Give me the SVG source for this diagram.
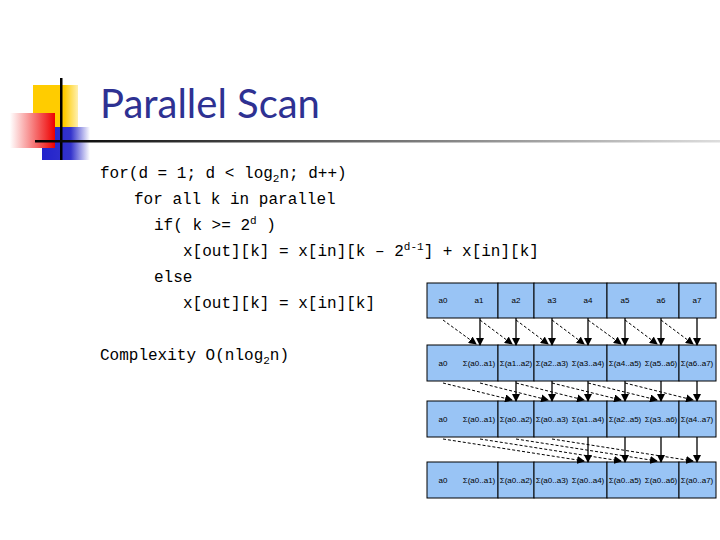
<svg xmlns="http://www.w3.org/2000/svg" width="720" height="540" viewBox="0 0 720 540">
<defs>
<linearGradient id="hl" x1="0" x2="1"><stop offset="0" stop-color="#000"/><stop offset="1" stop-color="#ddd"/></linearGradient>
<linearGradient id="rd" x1="0" x2="1"><stop offset="0" stop-color="#fff"/><stop offset="1" stop-color="#e00"/></linearGradient>
<linearGradient id="bl" x1="0" x2="1"><stop offset="0" stop-color="#2222cc"/><stop offset="0.6" stop-color="#3333cc"/><stop offset="1" stop-color="#fff"/></linearGradient>
<linearGradient id="yl" x1="0" x2="1"><stop offset="0" stop-color="#fc0"/><stop offset="0.7" stop-color="#fc0"/><stop offset="1" stop-color="#fff0b0"/></linearGradient>
<marker id="ah" markerWidth="8" markerHeight="8" refX="7" refY="4" orient="auto" markerUnits="userSpaceOnUse"><path d="M0,0 L8,4 L0,8 Z" fill="#000"/></marker>
<style>
.code{font-family:"Liberation Mono",monospace;font-size:16px;fill:#000}
.cell{fill:#99c4f5;stroke:#000;stroke-width:1}
.t{font-family:"Liberation Sans",sans-serif;font-size:8px;fill:#000;text-anchor:middle}
.s{stroke:#000;stroke-width:1.3;fill:none;marker-end:url(#ah)}
.d{stroke:#000;stroke-width:1;stroke-dasharray:3,2;fill:none;marker-end:url(#ah)}
</style>
</defs>
<g id="deco">
<rect x="33" y="85" width="45" height="42" fill="url(#yl)"/>
<rect x="42" y="127" width="48" height="33" fill="url(#bl)"/>
<rect x="10" y="113" width="45" height="35" fill="url(#rd)"/>
<rect x="60" y="78" width="2.5" height="82" fill="#000"/>
<rect x="35" y="140" width="685" height="2.5" fill="url(#hl)"/>
</g>
<text id="title" x="100" y="118" font-family="Lato,'Liberation Sans',sans-serif" font-size="40" fill="#2e3192">Parallel Scan</text>
<g id="code">
<text class="code" x="100" y="178">for(d = 1; d &lt; log<tspan font-size="11" dy="4">2</tspan><tspan dy="-4">n; d++)</tspan></text>
<text class="code" x="134" y="204">for all k in parallel</text>
<text class="code" x="154" y="230">if( k &gt;= 2<tspan font-size="11" dy="-6">d</tspan><tspan dy="6"> )</tspan></text>
<text class="code" x="183" y="256">x[out][k] = x[in][k – 2<tspan font-size="11" dy="-6">d-1</tspan><tspan dy="6">] + x[in][k]</tspan></text>
<text class="code" x="154" y="282">else</text>
<text class="code" x="183" y="308">x[out][k] = x[in][k]</text>
<text class="code" x="100" y="360">Complexity O(nlog<tspan font-size="11" dy="4">2</tspan><tspan dy="-4">n)</tspan></text>
</g>
<g id="row1">
<rect class="cell" x="427" y="283" width="71" height="35"/><rect class="cell" x="498" y="283" width="36" height="35"/><rect class="cell" x="534" y="283" width="73" height="35"/><rect class="cell" x="607" y="283" width="72" height="35"/><rect class="cell" x="679" y="283" width="37" height="35"/>
<text class="t" x="443" y="303">a0</text><text class="t" x="479" y="303">a1</text><text class="t" x="516" y="303">a2</text><text class="t" x="552" y="303">a3</text><text class="t" x="588" y="303">a4</text><text class="t" x="625" y="303">a5</text><text class="t" x="661" y="303">a6</text><text class="t" x="697" y="303">a7</text>
</g>
<g id="row2">
<rect class="cell" x="427" y="345" width="71" height="36"/><rect class="cell" x="498" y="345" width="36" height="36"/><rect class="cell" x="534" y="345" width="73" height="36"/><rect class="cell" x="607" y="345" width="72" height="36"/><rect class="cell" x="679" y="345" width="37" height="36"/>
<text class="t" x="443" y="366">a0</text><text class="t" x="479" y="366">Σ(a0..a1)</text><text class="t" x="516" y="366">Σ(a1..a2)</text><text class="t" x="552" y="366">Σ(a2..a3)</text><text class="t" x="588" y="366">Σ(a3..a4)</text><text class="t" x="625" y="366">Σ(a4..a5)</text><text class="t" x="661" y="366">Σ(a5..a6)</text><text class="t" x="697" y="366">Σ(a6..a7)</text>
</g>
<g id="row3">
<rect class="cell" x="427" y="401" width="71" height="36"/><rect class="cell" x="498" y="401" width="36" height="36"/><rect class="cell" x="534" y="401" width="73" height="36"/><rect class="cell" x="607" y="401" width="72" height="36"/><rect class="cell" x="679" y="401" width="37" height="36"/>
<text class="t" x="443" y="422">a0</text><text class="t" x="479" y="422">Σ(a0..a1)</text><text class="t" x="516" y="422">Σ(a0..a2)</text><text class="t" x="552" y="422">Σ(a0..a3)</text><text class="t" x="588" y="422">Σ(a1..a4)</text><text class="t" x="625" y="422">Σ(a2..a5)</text><text class="t" x="661" y="422">Σ(a3..a6)</text><text class="t" x="697" y="422">Σ(a4..a7)</text>
</g>
<g id="row4">
<rect class="cell" x="427" y="462" width="71" height="36"/><rect class="cell" x="498" y="462" width="36" height="36"/><rect class="cell" x="534" y="462" width="73" height="36"/><rect class="cell" x="607" y="462" width="72" height="36"/><rect class="cell" x="679" y="462" width="37" height="36"/>
<text class="t" x="443" y="483">a0</text><text class="t" x="479" y="483">Σ(a0..a1)</text><text class="t" x="516" y="483">Σ(a0..a2)</text><text class="t" x="552" y="483">Σ(a0..a3)</text><text class="t" x="588" y="483">Σ(a0..a4)</text><text class="t" x="625" y="483">Σ(a0..a5)</text><text class="t" x="661" y="483">Σ(a0..a6)</text><text class="t" x="697" y="483">Σ(a0..a7)</text>
</g>
<g id="connectors">
<path class="s" d="M480,318 V345"/><path class="s" d="M516,318 V345"/><path class="s" d="M552,318 V345"/><path class="s" d="M588,318 V345"/><path class="s" d="M625,318 V345"/><path class="s" d="M661,318 V345"/><path class="s" d="M697,318 V345"/>
<path class="d" d="M443,320 L476,344"/><path class="d" d="M480,320 L512,344"/><path class="d" d="M516,320 L548,344"/><path class="d" d="M552,320 L584,344"/><path class="d" d="M588,320 L621,344"/><path class="d" d="M625,320 L657,344"/><path class="d" d="M661,320 L693,344"/>
<path class="s" d="M516,381 V401"/><path class="s" d="M552,381 V401"/><path class="s" d="M588,381 V401"/><path class="s" d="M625,381 V401"/><path class="s" d="M661,381 V401"/><path class="s" d="M697,381 V401"/>
<path class="d" d="M443,383 L512,400"/><path class="d" d="M480,383 L548,400"/><path class="d" d="M516,383 L584,400"/><path class="d" d="M552,383 L621,400"/><path class="d" d="M588,383 L657,400"/><path class="d" d="M625,383 L693,400"/>
<path class="s" d="M588,437 V462"/><path class="s" d="M625,437 V462"/><path class="s" d="M661,437 V462"/><path class="s" d="M697,437 V462"/>
<path class="d" d="M443,439 L584,461"/><path class="d" d="M480,439 L621,461"/><path class="d" d="M516,439 L657,461"/><path class="d" d="M552,439 L693,461"/>
</g>
</svg>
